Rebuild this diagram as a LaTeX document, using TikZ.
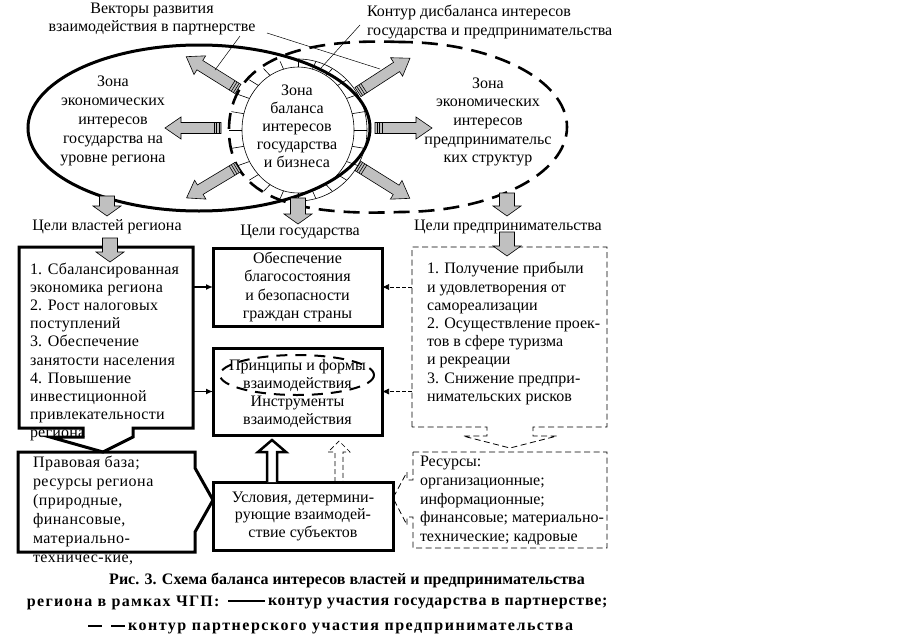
\documentclass[tikz,border=0pt]{standalone}
\usepackage{fontspec}
\setmainfont{Liberation Serif}
\usetikzlibrary{arrows.meta,calc}
\definecolor{silv}{RGB}{192,192,192}
\newcommand{\garrow}[4]{%
  \begin{scope}[shift={(#1)}, rotate=#2]
    \filldraw[gfill] (0,-5.5) -- ({#3-16},-5.5) -- ({#3-16},-11) -- (#3,0) -- ({#3-16},11) -- ({#3-16},5.5) -- (0,5.5) -- cycle;
    \ifnum#4=1
    \draw[line width=0.6pt] (2,-5.5) -- (2,5.5) (4.5,-5.5) -- (4.5,5.5) (7,-5.5) -- (7,5.5);
    \fi
  \end{scope}}
\newcommand{\darrow}[2]{%
  \begin{scope}[shift={(#1)}]
    \filldraw[gfill] (-7.5,0) -- (-7.5,{#2-10}) -- (-14,{#2-10}) -- (0,#2) -- (14,{#2-10}) -- (7.5,{#2-10}) -- (7.5,0) -- cycle;
  \end{scope}}
\begin{document}
\begin{tikzpicture}[x=1pt,y=-1pt,
  every node/.style={inner sep=0pt,outer sep=0pt},
  txt/.style={font=\fontsize{16}{18.2}\selectfont,align=center},
  etxt/.style={font=\fontsize{16}{19}\selectfont,align=center},
  ltxt/.style={font=\fontsize{16}{18.2}\selectfont,align=left},
  captxt/.style={font=\bfseries\fontsize{16}{18}\selectfont},
  frame/.style={line width=3pt, line join=miter},
  dframe/.style={line width=0.8pt, dash pattern=on 6pt off 3.5pt},
  contour/.style={line width=2.6pt, dash pattern=on 16pt off 9pt},
  gfill/.style={fill=silv, draw=black, line width=0.6pt},
  leader/.style={line width=0.5pt},
  sarrow/.style={line width=1.6pt, -{Latex[length=7pt,width=6pt]}},
  darr/.style={line width=0.7pt, dash pattern=on 4pt off 2pt, -{Latex[length=7pt,width=6pt]}},
]
\useasboundingbox (0,0) rectangle (908,643);

% ---- contours
\coordinate (ring) at (298,130);
\draw[line width=3pt] (199,128) ellipse [x radius=171, y radius=83];
\draw[contour] (400,42) .. controls (300,38) and (229,60) .. (229,130)
   .. controls (229,200) and (300,216) .. (400,212)
   arc[start angle=90, end angle=-90, x radius=167, y radius=85];

% ---- ring of the balance zone
\draw[line width=0.6pt] (ring) ellipse [x radius=56, y radius=63];
\foreach \a in {0,15,...,345}
  \draw[line width=0.6pt] ($(ring)+(\a:56 and 63)$) -- ($(ring)+(\a:69 and 71)$);
\draw[line width=0.6pt] ($(ring)+(-90:69 and 71)$) arc[start angle=-90,end angle=90,x radius=69,y radius=71];

% ---- gray vector arrows
\garrow{238,89}{148}{61}{1}
\garrow{221,128}{180}{56}{1}
\garrow{238,167}{211}{60}{1}
\garrow{358,92}{33}{62}{1}
\garrow{375,128}{0}{57}{1}
\garrow{358,166}{-32}{61}{1}
\darrow{107,196}{20}
\darrow{298,198}{26}
\darrow{507,193}{23}

% ---- top annotations
\node[txt] (vtext) at (152,19) {Векторы развития\\взаимодействия в партнерстве};
\node[ltxt,anchor=west,font=\fontsize{16}{19}\selectfont] (ktext) at (367,22) {Контур дисбаланса интересов\\государства и предпринимательства};
\coordinate (v1) at (240,36); \coordinate (v1e) at (215,70);
\coordinate (v2) at (267,33); \coordinate (v2e) at (380,69);
\coordinate (k1) at (360,25); \coordinate (k1e) at (321,68);
\draw[leader] (v1) -- (v1e);
\draw[leader] (v2) -- (v2e);
\draw[leader] (k1) -- (k1e);

% ---- zone texts
\node[etxt] (lz) at (113,121) {Зона\\экономических\\интересов\\государства на\\уровне региона};
\node[txt,font=\fontsize{16}{18}\selectfont] (cz) at (297,126) {Зона\\баланса\\интересов\\государства\\и бизнеса};
\node[txt,font=\fontsize{16}{18.7}\selectfont] (rz) at (488,122) {Зона\\экономических\\интересов\\предпринимательс\\ких структур};

% ---- goal labels
\node[txt] (lgoal) at (107,227) {Цели властей региона};
\node[txt] (ggoal) at (300,232) {Цели государства};
\node[txt] (bgoal) at (508,227) {Цели предпринимательства};

% ---- left box (down-arrow callout)
\node[minimum width=174, minimum height=181] (lbox) at (106,337.5) {};
\node[ltxt,anchor=west,font=\fontsize{16}{18.2}\selectfont\addfontfeature{LetterSpace=1.5}] (ltext) at (30,352) {1. Сбалансированная\\экономика региона\\2. Рост налоговых\\поступлений\\3. Обеспечение\\занятости населения\\4. Повышение\\инвестиционной\\привлекательности\\региона};
\draw[frame] (lbox.south west) -- (lbox.north west) -- (lbox.north east) -- (lbox.south east)
  -- ++(-60,0) -- ++(0,9) -- ++(-30,15) -- ++(-53,-15) -- ++(33,0) -- ++(0,-9) -- cycle;

% ---- centre boxes
\node[draw,frame,txt,minimum width=169,minimum height=78] (gbox1) at (297.5,287) {Обеспечение\\благосостояния\\и безопасности\\граждан страны};
\node[draw,frame,minimum width=169,minimum height=87] (gbox2) at (297.5,391.5) {};
\node[txt] (g2text) at (297.5,393.5) {Принципы и формы\\взаимодействия\\Инструменты\\взаимодействия};
\draw[line width=2pt, dash pattern=on 11pt off 8pt] (297,375) ellipse [x radius=77, y radius=20];

% ---- right dashed box (down-arrow callout)
\node[minimum width=195, minimum height=180] (rbox) at (509.5,337) {};
\draw[dframe] (rbox.south west) -- (rbox.north west) -- (rbox.north east) -- (rbox.south east)
  -- ++(-74,0) -- ++(0,9) -- ++(24,0) -- ++(-47,12) -- ++(-47,-12) -- ++(24,0) -- ++(0,-9) -- cycle;
\node[ltxt,anchor=west] (rtext) at (427,333.5) {1. Получение прибыли\\и удовлетворения от\\самореализации\\2. Осуществление проек-\\тов в сфере туризма\\и рекреации\\3. Снижение предпри-\\нимательских рисков};

\darrow{110,238}{24}
\darrow{507,232}{24}

% ---- bottom boxes
\node[minimum width=177, minimum height=100] (pbox) at (106.5,502) {};
\node[ltxt,anchor=west,font=\fontsize{16}{19}\selectfont\addfontfeature{LetterSpace=3}] (ptext) at (33,510.5) {Правовая база;\\ресурсы региона\\(природные,\\финансовые,\\материально-\\техничес-кие,};
\draw[frame] (pbox.north west) -- (pbox.north east) -- ++(0,16) -- ++(18,32) -- ++(-18,32)
  -- (pbox.south east) -- (pbox.south west) -- cycle;

\node[draw,frame,txt,font=\fontsize{16}{17.5}\selectfont,minimum width=180,minimum height=68] (ubox) at (303,516) {Условия, детермини-\\рующие взаимодей-\\ствие субъектов};

\node[minimum width=194, minimum height=96] (resbox) at (510,500) {};
\draw[dframe] (resbox.north west) -- (resbox.north east) -- (resbox.south east) -- (resbox.south west)
  -- ++(0,-31) -- ++(-6,0) -- ++(0,8) -- ++(-14,-27) -- ++(14,-26) -- ++(0,8) -- ++(6,0) -- cycle;
\node[ltxt,anchor=west,font=\fontsize{16}{18.75}\selectfont] (restext) at (420,500.5) {Ресурсы:\\организационные;\\информационные;\\финансовые; материально-\\технические; кадровые};

% ---- connectors between boxes
\draw[sarrow] (lbox.east |- gbox1.west) -- (gbox1.west);
\draw[sarrow] (lbox.east |- gbox2.west) -- (gbox2.west);
\draw[darr] (rbox.west |- gbox1.east) -- (gbox1.east);
\draw[darr] (rbox.west |- gbox2.east) -- (gbox2.east);

\begin{scope}[shift={($(ubox.north)+(-31,0)$)}]
  \draw[line width=2.5pt, fill=white, line join=miter] (-5,0) -- (-5,-30) -- (-14,-30) -- (0,-42) -- (14,-30) -- (5,-30) -- (5,0);
\end{scope}
\begin{scope}[shift={($(ubox.north)+(36,0)$)}]
  \draw[line width=0.7pt, dash pattern=on 5pt off 3pt] (-4,0) -- (-4,-30) -- (-11,-30) -- (0,-41) -- (11,-30) -- (4,-30) -- (4,0);
\end{scope}

% ---- caption
\node[captxt] (cap1) at (347,580) {Рис. 3. Схема баланса интересов властей и предпринимательства};
\node[captxt,anchor=west,font=\bfseries\fontsize{16}{18}\selectfont\addfontfeature{LetterSpace=8}] (cap2a) at (27,603) {региона в рамках ЧГП:};
\coordinate (s1) at (228,601); \coordinate (s2) at (265,601);
\draw[line width=2.2pt] (s1) -- (s2);
\node[captxt,anchor=west,font=\bfseries\fontsize{16}{18}\selectfont\addfontfeature{LetterSpace=4.5}] (cap2b) at (268,603) {контур участия государства в партнерстве;};
\coordinate (d1) at (88,626); \coordinate (d2) at (102,626);
\coordinate (d3) at (111,626); \coordinate (d4) at (125,626);
\draw[line width=2.2pt] (d1) -- (d2) (d3) -- (d4);
\node[captxt,anchor=west,font=\bfseries\fontsize{16}{18}\selectfont\addfontfeature{LetterSpace=9.5}] (cap3) at (128,628) {контур партнерского участия предпринимательства};
\end{tikzpicture}
\end{document}
